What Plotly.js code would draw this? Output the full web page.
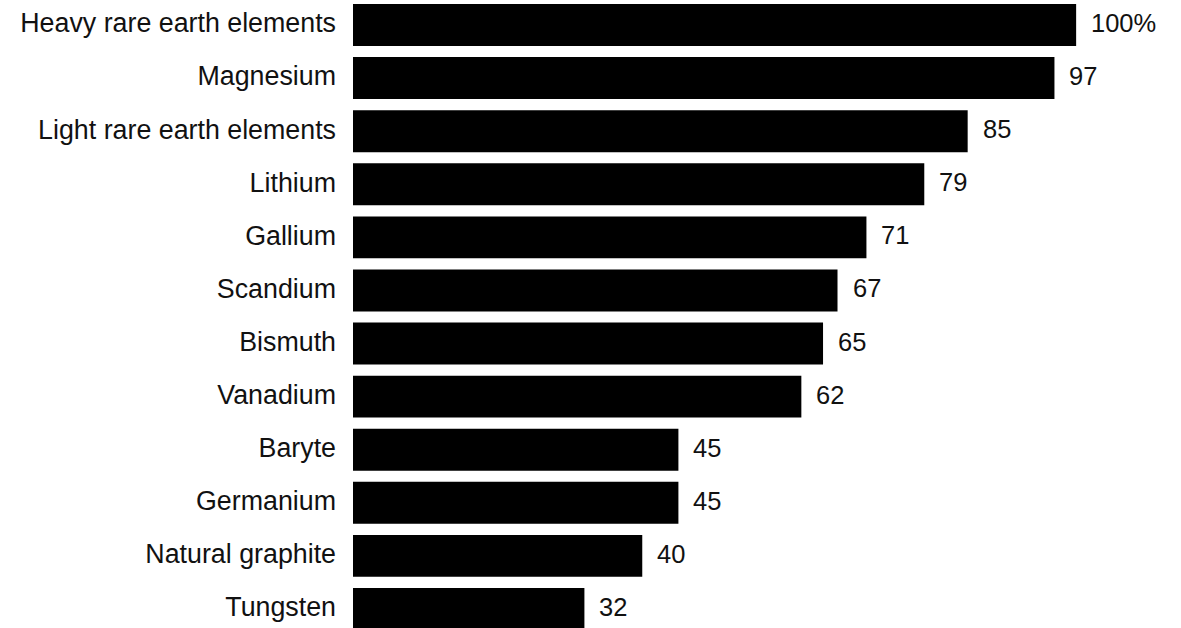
<!DOCTYPE html>
<html>
<head>
<meta charset="utf-8">
<script src="https://cdn.plot.ly/plotly-3.0.1.min.js"></script>
<style>
  html, body { margin: 0; padding: 0; overflow: hidden; background: #fff; }
  #chart { width: 1181px; height: 628px; }
</style>
</head>
<body>
<div id="chart"></div>
<script>
// Share of supply, by material (percent)
const materials = [
  "Heavy rare earth elements",
  "Magnesium",
  "Light rare earth elements",
  "Lithium",
  "Gallium",
  "Scandium",
  "Bismuth",
  "Vanadium",
  "Baryte",
  "Germanium",
  "Natural graphite",
  "Tungsten"
];
const shares = [100, 97, 85, 79, 71, 67, 65, 62, 45, 45, 40, 32];
const shareLabels = ["100%", "97", "85", "79", "71", "67", "65", "62", "45", "45", "40", "32"];

const FONT = "Liberation Sans, Arial, Helvetica, sans-serif";

const bars = {
  type: "bar",
  orientation: "h",
  x: shares,
  y: materials,
  marker: { color: "#000000", line: { width: 0 } },
  width: 0.79,
  hoverinfo: "skip"
};

const valueNotes = shares.map((v, i) => ({
  x: v,
  y: materials[i],
  xref: "x",
  yref: "y",
  text: shareLabels[i],
  showarrow: false,
  xanchor: "left",
  yanchor: "middle",
  xshift: 13,
  yshift: 2,
  font: { family: FONT, size: 25.5, color: "#111111" }
}));

const layout = {
  width: 1181,
  height: 628,
  margin: { l: 353, r: 0, t: 0, b: 0, pad: 0 },
  paper_bgcolor: "#ffffff",
  plot_bgcolor: "#ffffff",
  showlegend: false,
  xaxis: {
    range: [0, 114.5],
    showgrid: false,
    zeroline: false,
    showline: false,
    showticklabels: false,
    ticks: ""
  },
  yaxis: {
    type: "category",
    range: [11.358, -0.471],
    showgrid: false,
    zeroline: false,
    showline: false,
    ticks: "",
    ticklabelstandoff: 16,
    ticklabelshift: 2,
    tickfont: { family: FONT, size: 26.8, color: "#111111" }
  },
  annotations: valueNotes
};

Plotly.newPlot("chart", [bars], layout, { staticPlot: true, displayModeBar: false });
</script>
</body>
</html>
